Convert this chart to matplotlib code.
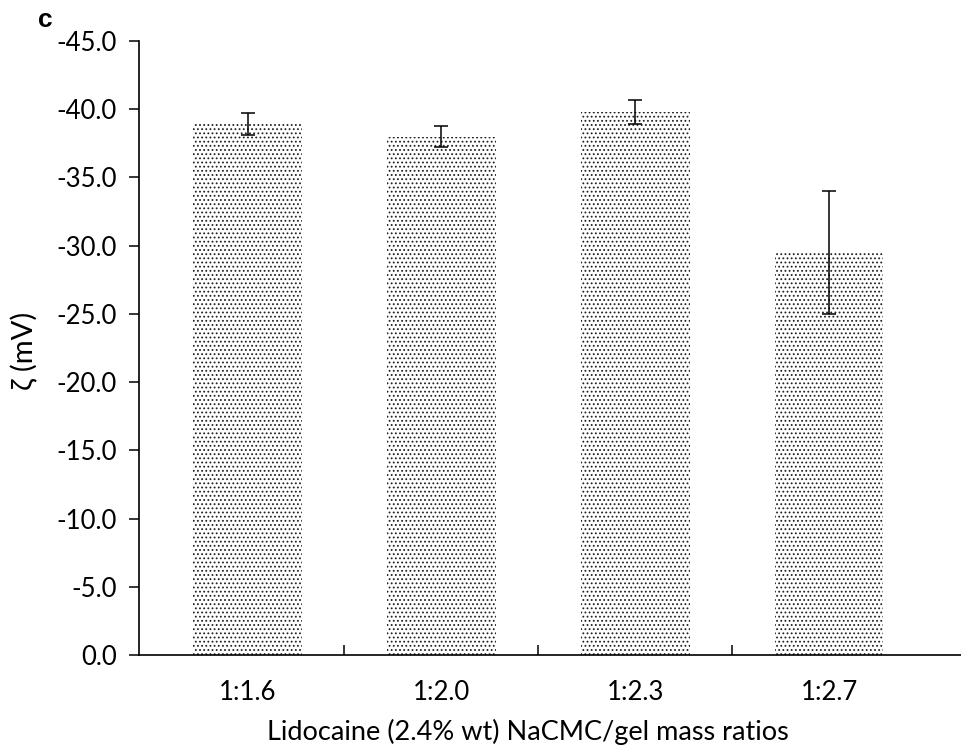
import matplotlib
matplotlib.use("Agg")
import matplotlib.pyplot as plt

ratios = ["1:1.6", "1:2.0", "1:2.3", "1:2.7"]
zeta = [-38.9, -38.0, -39.8, -29.5]   # mV
zeta_err = [0.8, 0.75, 0.85, 4.5]

plt.rcParams['font.family'] = ['Lato', 'DejaVu Sans']
plt.rcParams['hatch.linewidth'] = 0.8

fig = plt.figure(figsize=(9.61, 7.53), dpi=100)
ax = fig.add_axes([0.1446, 0.1301, 0.8554, 0.8154])

x = list(range(len(ratios)))
ax.bar(x, zeta, width=0.56, color="white", edgecolor="#222222", linewidth=0,
       hatch="....", zorder=2)
ax.errorbar(x, zeta, yerr=zeta_err, fmt="none", ecolor="black", elinewidth=1.1,
            capsize=5, capthick=1.1, zorder=3)

ax.set_ylim(0, -45)
ax.set_xlim(-0.56, 3.68)
ax.set_yticks([-5 * i for i in range(10)])
ax.set_yticklabels(["%.1f" % (-5 * i) for i in range(10)])
ax.tick_params(axis="y", direction="out", length=7, width=1.1, labelsize=18.5, pad=9)

# category labels at centres, tick marks between categories
ax.set_xticks(x)
ax.set_xticklabels(ratios)
ax.tick_params(axis="x", which="major", length=0, labelsize=18.5, pad=18)
ax.set_xticks([0.5, 1.5, 2.5], minor=True)
ax.tick_params(axis="x", which="minor", direction="in", length=7, width=1.1)

for s in ["top", "right"]:
    ax.spines[s].set_visible(False)
for s in ["left", "bottom"]:
    ax.spines[s].set_linewidth(1.2)

ax.set_ylabel("ζ (mV)", fontsize=21)
ax.yaxis.set_label_coords(-0.123, 0.495)
ax.set_xlabel("Lidocaine (2.4% wt) NaCMC/gel mass ratios", fontsize=19.5)
ax.xaxis.set_label_coords(0.473, -0.104)

fig.text(0.047, 0.973, "c", fontsize=19, fontweight="bold",
         family="Liberation Sans", ha="center", va="center")

fig.savefig("out.png", dpi=100)
